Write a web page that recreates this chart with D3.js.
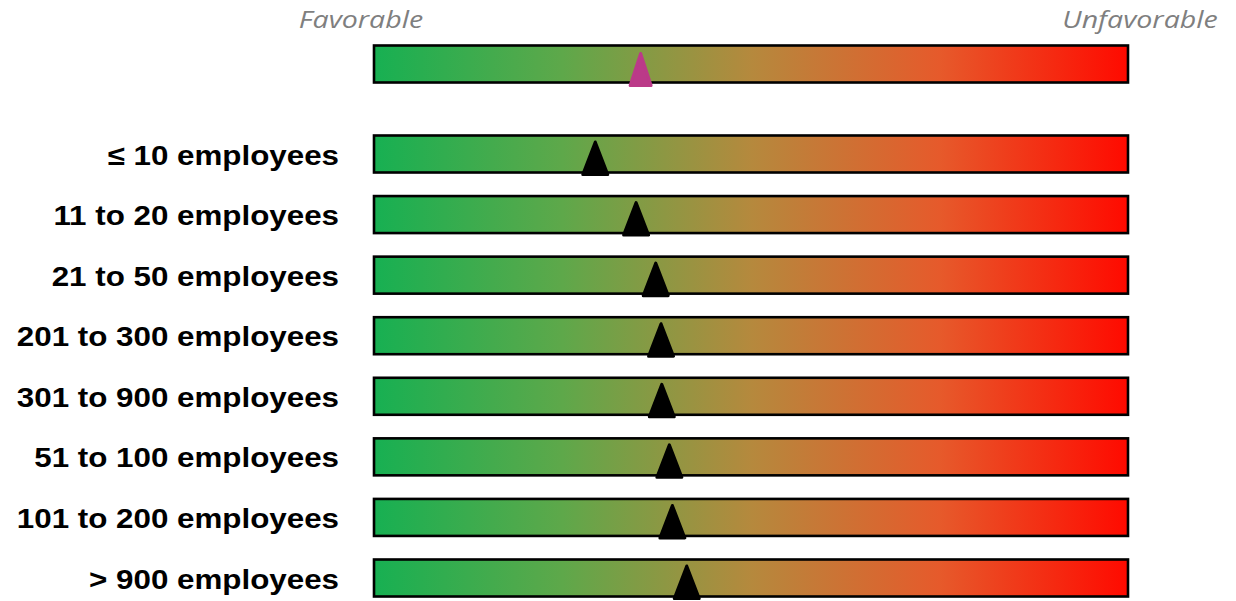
<!DOCTYPE html>
<html><head><meta charset="utf-8">
<script src="https://cdn.jsdelivr.net/npm/d3@7"></script>
<style>body{margin:0;background:#fff}</style>
</head><body>
<svg id="c" width="1236" height="601"></svg>
<script>
// Data
const categories = ["≤ 10 employees","11 to 20 employees","21 to 50 employees","201 to 300 employees","301 to 900 employees","51 to 100 employees","101 to 200 employees","> 900 employees"];
const scores = [29.4, 34.8, 37.4, 38.1, 38.2, 39.2, 39.6, 41.5];
const overallScore = [35.4];
const endLabels = ["Favorable","Unfavorable"];

const svg = d3.select("#c");
const x = d3.scaleLinear().domain([0,100]).range([373,1129]);
const y = d3.scalePoint().domain(categories).range([154,578]);
const overallY = 64;
const barH = 37;

const defs = svg.append("defs");
const grad = defs.append("linearGradient").attr("id","g").attr("x1","0%").attr("x2","100%");
[[0,"#17b052"],[0.25,"#5ea84a"],[0.5,"#b5893d"],[0.75,"#e65a2b"],[1,"#ff0a00"]]
  .forEach(([o,c])=>grad.append("stop").attr("offset",o).attr("stop-color",c));

function bar(cy){
  svg.append("rect").attr("x",x(0)+1).attr("y",cy-barH/2).attr("width",x(100)-x(0)-2).attr("height",barH)
    .attr("fill","url(#g)").attr("stroke","#000").attr("stroke-width",2.6);
}
function tri(cx, cy, half, color, tipOff, baseOff){
  const top = cy-barH/2-1.5, bot = cy+barH/2+1.5;
  const p = d3.path();
  p.moveTo(cx, top+tipOff); p.lineTo(cx+half, bot+baseOff); p.lineTo(cx-half, bot+baseOff); p.closePath();
  svg.append("path").attr("d",p.toString()).attr("fill",color).attr("stroke",color)
    .attr("stroke-width",3).attr("stroke-linejoin","round");
}

// overall
bar(overallY);
tri(x(overallScore[0]), overallY, 10.5, "#bb3a88", 9.5, 1.5);

// end labels
[[x(0)-12, endLabels[0]],[x(100)+11, endLabels[1]]].forEach(([lx,t])=>{
  svg.append("text").attr("transform",`translate(${lx},28) scale(1.19,1)`).attr("text-anchor","middle")
    .attr("font-family","Open Sans").attr("font-style","italic").attr("font-size",24).attr("fill","#7f7f7f").text(t);
});

categories.forEach((c,i)=>{
  const cy = y(c);
  bar(cy);
  tri(x(scores[i]), cy, 12.5, "#000", 8, 0.5);
  svg.append("text").attr("transform",`translate(339,${cy+10.5}) scale(1.14,1)`)
    .attr("text-anchor","end").attr("font-family","Liberation Sans, Arial, sans-serif")
    .attr("font-weight","bold").attr("font-size",27.5).attr("fill","#000").text(c);
});
</script>
</body></html>
